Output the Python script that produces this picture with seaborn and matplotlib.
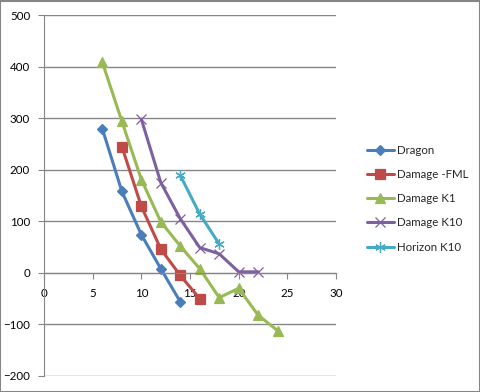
import matplotlib
matplotlib.use('Agg')

import pandas as pd
import seaborn as sns
from matplotlib import pyplot as plt
from matplotlib.patches import Rectangle

# values
dragon_x = [6, 8, 10, 12, 14]
dragon_y = [279, 158, 74, 8, -56]
fml_x = [8, 10, 12, 14, 16]
fml_y = [245, 129, 46, -5, -50]
k1_x = [6, 8, 10, 12, 14, 16, 18, 20, 22, 24]
k1_y = [408, 294, 181, 99, 52, 8, -48, -30, -82, -112]
k10_x = [10, 12, 14, 16, 18, 20, 22]
k10_y = [298, 175, 105, 49, 37, 2, 2]
hk10_x = [14, 16, 18]
hk10_y = [189, 114, 56]

series = [
  ("Dragon", dragon_x, dragon_y, "D", "#4A7EBB", 5),
  ("Damage -FML", fml_x, fml_y, "s", "#BE4B48", 6.5),
  ("Damage K1", k1_x, k1_y, "^", "#98B954", 7),
  ("Damage K10", k10_x, k10_y, "x", "#7D60A0", 7.5),
  ("Horizon K10", hk10_x, hk10_y, (6, 2, 0), "#46AAC5", 7.5),
]

sns.set_style("white")
plt.rcParams['font.family'] = ['Lato', 'DejaVu Sans']

fig = plt.figure(figsize=(4.81, 3.92), dpi=100)
ax = fig.add_axes([44 / 481, 16 / 392, 292 / 481, 361 / 392])

for name, xs, ys, mk, col, ms in series:
  df = pd.DataFrame({"x": xs, "y": ys})
  sns.lineplot(data=df, x="x", y="y", ax=ax, color=col, marker=mk,
               markersize=ms, markeredgecolor=col, markeredgewidth=0.9,
               linewidth=2.2, label=name, sort=False)

ax.set_xlim(0, 30)
ax.set_ylim(-200, 500)
ax.set_xticks(range(0, 31, 5))
ax.set_yticks(range(-200, 501, 100))
ax.yaxis.grid(True, color="#868686", linewidth=1)
ax.set_axisbelow(True)
ax.set_xlabel("")
ax.set_ylabel("")

for s in ["top", "right"]:
  ax.spines[s].set_visible(False)
ax.spines["left"].set_color("#868686")
ax.spines["bottom"].set_color("#868686")
ax.spines["bottom"].set_position(("data", 0))
ax.tick_params(axis="both", which="both", direction="out", length=4,
               color="#868686", labelsize=8.3, labelcolor="black")
ax.tick_params(axis="x", bottom=True, pad=7)
ax.tick_params(axis="y", left=True, pad=6)

ax.legend(loc="upper left", bbox_to_anchor=(362 / 481, 252 / 392),
          bbox_transform=fig.transFigure, frameon=False, fontsize=8.3,
          handlelength=2.4, labelspacing=1.15, borderaxespad=0, handletextpad=0.2)

fig.patches.append(Rectangle((0.001, 0.001), 0.997, 0.997, transform=fig.transFigure,
                             fill=False, edgecolor="#868686", linewidth=1.5))

plt.savefig("out.png", dpi=100)
